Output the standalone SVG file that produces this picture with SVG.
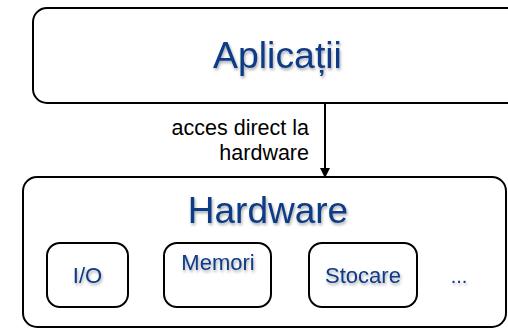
<svg xmlns="http://www.w3.org/2000/svg" width="508" height="329" viewBox="0 0 508 329">
<defs>
<filter id="sh" x="-20%" y="-30%" width="140%" height="160%">
<feDropShadow dx="1" dy="2" stdDeviation="1.5" flood-color="#000" flood-opacity="0.35"/>
</filter>
<marker id="ah" markerWidth="10" markerHeight="10" refX="9" refY="5" orient="auto" markerUnits="userSpaceOnUse">
<path d="M0,0 L10,5 L0,10 Z" fill="#000"/>
</marker>
</defs>
<style>
.box{fill:#fff;stroke:#000;stroke-width:2}
.t{font-family:"Liberation Sans",Arial,sans-serif;fill:#0d3a86;text-anchor:middle;filter:url(#sh)}
.lbl{font-family:"Liberation Sans",Arial,sans-serif;fill:#000;font-size:21.5px;text-anchor:end}
</style>
<rect width="508" height="329" fill="#fff"/>
<g id="aplicatii">
<rect class="box" x="33" y="8" width="500" height="95" rx="14"/>
<text class="t" x="277.5" y="68" font-size="37.4">Aplicații</text>
</g>
<g id="hardware">
<rect class="box" x="23" y="177" width="483" height="150" rx="14"/>
<text class="t" x="268" y="223" font-size="37">Hardware</text>
</g>
<g id="io">
<rect class="box" x="47" y="243" width="81" height="64" rx="13"/>
<text class="t" x="87.5" y="283" font-size="22">I/O</text>
</g>
<g id="memori">
<rect class="box" x="164" y="243" width="107" height="64" rx="13"/>
<text class="t" x="218" y="270" font-size="22">Memori</text>
</g>
<g id="stocare">
<rect class="box" x="309" y="243" width="108" height="64" rx="13"/>
<text class="t" x="363" y="283" font-size="22">Stocare</text>
</g>
<g id="more">
<text class="t" x="459" y="283" font-size="20">...</text>
</g>
<g id="connectors">
<line x1="325" y1="103" x2="325" y2="177" stroke="#000" stroke-width="2" marker-end="url(#ah)"/>
<text class="lbl" x="309" y="135">acces direct la</text>
<text class="lbl" x="309" y="160">hardware</text>
</g>
</svg>
